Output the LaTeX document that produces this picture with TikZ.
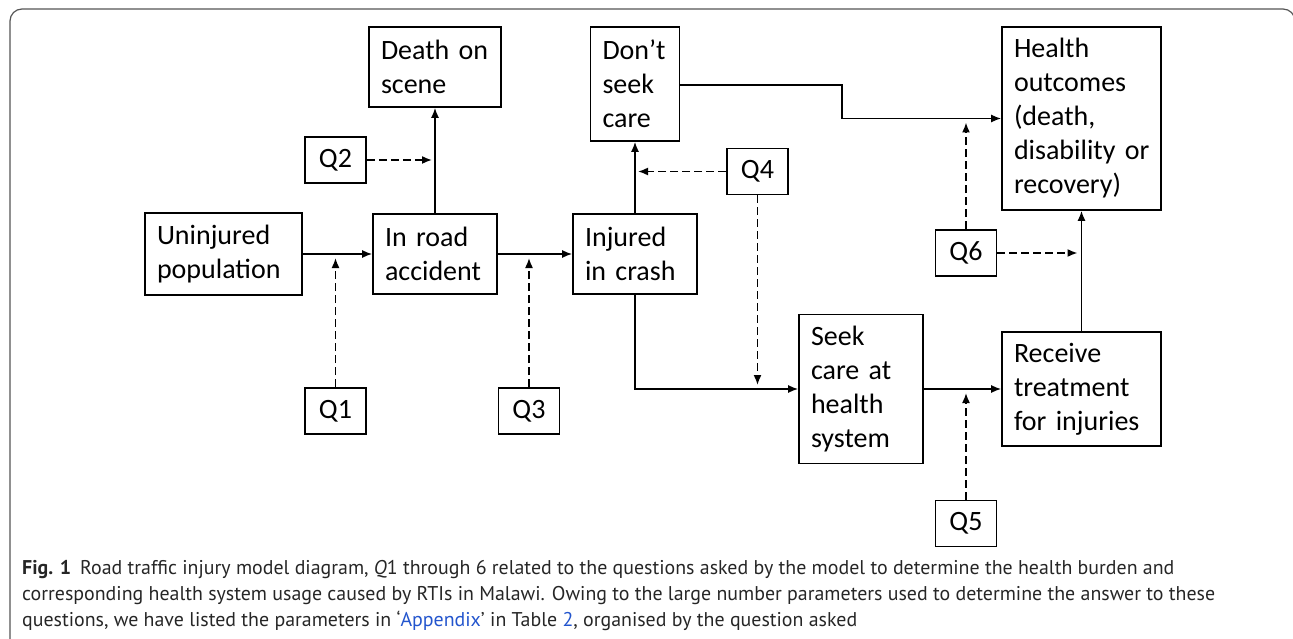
\documentclass[tikz,border=0pt]{standalone}
\usepackage{fontspec}
\setmainfont{Carlito}
\newfontfamily\capfont{PT Sans}
\usetikzlibrary{arrows.meta}
\definecolor{linkblue}{RGB}{35,85,205}
\definecolor{framegray}{RGB}{85,85,85}

\begin{document}
\begin{tikzpicture}[x=1pt, y=-1pt,
  every node/.style={font=\fontsize{28}{34}\selectfont},
  box/.style={draw, line width=1.6pt, align=left, inner xsep=12pt, inner ysep=0pt},
  qbox/.style={draw, line width=1.6pt, minimum width=61pt, minimum height=46pt, inner sep=0pt},
  flow/.style={line width=1.6pt, -{Latex[length=10pt,width=8pt]}},
  qflow/.style={flow, dash pattern=on 8pt off 4pt, shorten >=4pt},
  captext/.style={anchor=base west, inner sep=0pt, text=black!85,
    font=\capfont\fontsize{19.9}{26}\selectfont}]
  \useasboundingbox (0,0) rectangle (1293,639);
  % frame of the figure
  \draw[framegray, line width=1.2pt, rounded corners=12pt] (10,680) -- (10,9) -- (1295,9) -- (1295,680);

  % states
  \node[box, text width=133pt, minimum height=82pt] (uninj) at (223.5,254) {Uninjured\\population};
  \node[box, text width=100pt, minimum height=80pt] (road) at (435,254) {In road\\accident};
  \node[box, text width=100pt, minimum height=80pt] (injured) at (635,254) {Injured\\in crash};
  \node[box, text width=108pt, minimum height=80pt] (death) at (435,67) {Death on\\scene};
  \node[box, text width=65pt, minimum height=114pt] (dont) at (635,84) {Don’t\\seek\\care};
  \node[box, text width=100pt, minimum height=149pt] (seek) at (861,389) {Seek\\care at\\health\\system};
  \node[box, text width=135pt, minimum height=114pt] (receive) at (1081.5,389) {Receive\\treatment\\for~injuries};
  \node[box, text width=135pt, minimum height=183pt] (health) at (1081.5,118.5) {Health\\outcomes\\(death,\\disability~or\\recovery)};

  % questions
  \node[qbox] (q1) at (335.5,411) {Q1};
  \node[qbox] (q2) at (335.5,160) {Q2};
  \node[qbox] (q3) at (529,411) {Q3};
  \node[qbox] (q4) at (757.5,171.5) {Q4};
  \node[qbox] (q5) at (966,523.5) {Q5};
  \node[qbox] (q6) at (966,253) {Q6};
  \coordinate (elbow) at (842,118.5);

  % flows
  \draw[flow] (uninj) -- (road);
  \draw[flow] (road) -- (injured);
  \draw[flow] (road) -- (death);
  \draw[flow] (injured) -- (dont);
  \draw[flow] (injured) |- (seek);
  \draw[flow] (seek) -- (receive);
  \draw[flow] (receive) -- (health);
  \draw[flow] (dont.east |- 0,85) -| (elbow) -- (health);

  \draw[qflow] (q1) -- (q1 |- road);
  \draw[qflow, shorten >=3pt] (q2) -- (q2 -| road);
  \draw[qflow] (q3) -- (q3 |- road);
  \draw[qflow, shorten >=3pt] (q4) -- (q4 -| dont);
  \draw[qflow] (q4) -- (q4 |- seek);
  \draw[qflow] (q5) -- (q5 |- seek);
  \draw[qflow] (q6) -- (q6 |- elbow);
  \draw[qflow] (q6) -- (q6 -| receive);

  % caption
  \node[captext] (cap1) at (22,574) {\textbf{Fig. 1}\hspace{9pt}Road traffic injury model diagram, \textit{Q}1 through 6 related to the questions asked by the model to determine the health burden and};
  \node[captext] (cap2) at (22,600) {corresponding health system usage caused by RTIs in Malawi. Owing to the large number parameters used to determine the answer to these};
  \node[captext] (cap3) at (22,626) {questions, we have listed the parameters in ‘\textcolor{linkblue}{Appendix}’ in Table \textcolor{linkblue}{2}, organised by the question asked};
\end{tikzpicture}
\end{document}
